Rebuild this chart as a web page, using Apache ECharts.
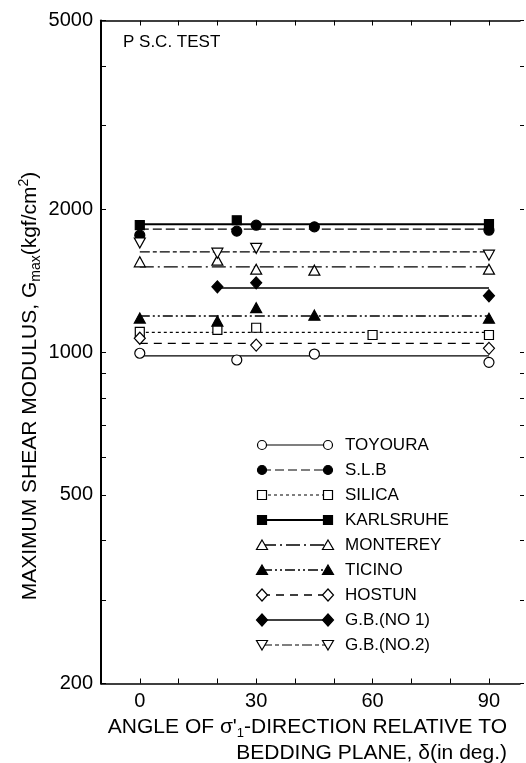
<!DOCTYPE html>
<html>
<head>
<meta charset="utf-8">
<script src="https://cdn.jsdelivr.net/npm/echarts@6/dist/echarts.min.js"></script>
<style>
  html, body { margin: 0; padding: 0; background: #fff; }
  #main { width: 526px; height: 763px; }
</style>
</head>
<body>
<div id="main"></div>
<script>
const FONT = '"Liberation Sans", Arial, Helvetica, sans-serif';

// axis ticks
const angleTicks = [-10, 0, 10, 20, 30, 40, 50, 60, 70, 80, 90];
const angleLabels = [0, 30, 60, 90];
const modulusTicks = [200, 300, 400, 500, 600, 700, 800, 900, 1000, 2000, 3000, 4000, 5000];
const modulusLabels = [200, 500, 1000, 2000, 5000];

// measured points: [angle (deg), Gmax (kgf/cm2)]
const toyoura = [[0, 994], [25, 962], [45, 990], [90, 951]];
const slb = [[0, 1763], [25, 1798], [30, 1851], [45, 1836], [90, 1806]];
const silica = [[0, 1103], [20, 1113], [30, 1125], [60, 1086], [90, 1086]];
const karlsruhe = [[0, 1851], [25, 1896], [90, 1860]];
const monterey = [[0, 1549], [20, 1562], [30, 1495], [45, 1488], [90, 1495]];
const ticino = [[0, 1179], [20, 1162], [30, 1240], [45, 1196], [90, 1178]];
const hostun = [[0, 1069], [30, 1034], [90, 1018]];
const gb1 = [[20, 1372], [30, 1399], [90, 1314]];
const gb2 = [[0, 1698], [20, 1616], [30, 1654], [90, 1600]];

// horizontal mean lines
const fitLevel = [981, 1815, 1100, 1860, 1512, 1191, 1043, 1364, 1626];
const fitFrom = [0, 0, 0, 0, 0, 0, 0, 20, 0];
const fitTo = [90, 90, 90, 90, 90, 90, 90, 90, 90];

const names = ['TOYOURA', 'S.L.B', 'SILICA', 'KARLSRUHE', 'MONTEREY', 'TICINO', 'HOSTUN', 'G.B.(NO 1)', 'G.B.(NO.2)'];
const points = [toyoura, slb, silica, karlsruhe, monterey, ticino, hostun, gb1, gb2];

const looks = [
  { symbol: 'circle', fill: false, dash: 'solid', w: 1.2 },
  { symbol: 'circle', fill: true, dash: [9, 4], w: 1.2 },
  { symbol: 'rect', fill: false, dash: [3, 3], w: 1.2 },
  { symbol: 'rect', fill: true, dash: 'solid', w: 2 },
  { symbol: 'triangle', fill: false, dash: [14, 4, 2, 4], w: 1.4 },
  { symbol: 'triangle', fill: true, dash: [10, 3, 2, 3, 2, 3], w: 1.3 },
  { symbol: 'diamond', fill: false, dash: [8, 6], w: 1.3 },
  { symbol: 'diamond', fill: true, dash: 'solid', w: 1.4 },
  { symbol: 'triangle', rotate: 180, fill: false, dash: [10, 3, 4, 3], w: 1.2 }
];

function symSize(s) {
  if (s === 'diamond') return [11, 12];
  if (s === 'triangle') return [11, 10];
  if (s === 'rect') return 9;
  return 10;
}

const series = [];
names.forEach((n, i) => {
  const lk = looks[i];
  series.push({
    type: 'line', name: n + ' line', silent: true, z: 2,
    symbol: 'none',
    data: [[fitFrom[i], fitLevel[i]], [fitTo[i], fitLevel[i]]],
    lineStyle: { color: '#000', width: lk.w, type: lk.dash }
  });
  series.push({
    type: 'scatter', name: n, z: 3,
    data: points[i],
    symbol: lk.symbol, symbolSize: symSize(lk.symbol), symbolRotate: lk.rotate || 0,
    itemStyle: { color: lk.fill ? '#000' : '#fff', borderColor: '#000', borderWidth: 1.2, opacity: 1 }
  });
});

// legend drawn as marker—line—marker rows
function mark(lk, x, y) {
  const style = { fill: lk.fill ? '#000' : '#fff', stroke: '#000', lineWidth: 1.2 };
  if (lk.symbol === 'circle') return { type: 'circle', shape: { cx: x, cy: y, r: 4.5 }, style, z: 101 };
  if (lk.symbol === 'rect') return { type: 'rect', shape: { x: x - 4.5, y: y - 4.5, width: 9, height: 9 }, style, z: 101 };
  if (lk.symbol === 'diamond') return { type: 'polygon', shape: { points: [[x, y - 6], [x + 5.5, y], [x, y + 6], [x - 5.5, y]] }, style, z: 101 };
  if (lk.rotate) return { type: 'polygon', shape: { points: [[x, y + 5], [x + 5.5, y - 4.5], [x - 5.5, y - 4.5]] }, style, z: 101 };
  return { type: 'polygon', shape: { points: [[x, y - 5], [x + 5.5, y + 4.5], [x - 5.5, y + 4.5]] }, style, z: 101 };
}

const graphics = [
  { type: 'text', left: 123, top: 34, z: 100,
    style: { text: 'P S.C. TEST', fontSize: 17, fontFamily: FONT, fill: '#000' } },
  { type: 'text', x: 507, y: 727, z: 100,
    style: { text: 'ANGLE OF σ\'{sub|1}-DIRECTION RELATIVE TO', fontSize: 21, fontFamily: FONT, fill: '#000',
      align: 'right', verticalAlign: 'middle',
      rich: { sub: { fontSize: 13, fontFamily: FONT, padding: [12, 0, 0, 0] } } } },
  { type: 'text', x: 507, y: 753, z: 100,
    style: { text: 'BEDDING PLANE, δ(in deg.)', fontSize: 21, fontFamily: FONT, fill: '#000',
      align: 'right', verticalAlign: 'middle' } },
  { type: 'text', x: 30, y: 386, rotation: Math.PI / 2, z: 100,
    style: { text: 'MAXIMUM SHEAR MODULUS, G{sub|max}(kgf/cm{sup|2})', fontSize: 21, fontFamily: FONT, fill: '#000',
      align: 'center', verticalAlign: 'middle',
      rich: {
        sub: { fontSize: 14, fontFamily: FONT, padding: [12, 0, 0, 0] },
        sup: { fontSize: 14, fontFamily: FONT, padding: [0, 0, 12, 0] }
      } } }
];
names.forEach((n, i) => {
  const lk = looks[i];
  const y = 445 + 25 * i;
  graphics.push({ type: 'line', z: 100, shape: { x1: 262, y1: y, x2: 328, y2: y },
    style: { stroke: '#000', lineWidth: lk.w, lineDash: lk.dash === 'solid' ? null : lk.dash } });
  graphics.push(mark(lk, 262, y));
  graphics.push(mark(lk, 328, y));
  graphics.push({ type: 'text', x: 345, y: y, z: 100,
    style: { text: n, fontSize: 17, fontFamily: FONT, fill: '#000', verticalAlign: 'middle' } });
});

const chart = echarts.init(document.getElementById('main'), null, { renderer: 'canvas' });
chart.setOption({
  animation: false,
  backgroundColor: '#fff',
  grid: { left: 101, right: 6, top: 20.5, bottom: 79.5, containLabel: false },
  xAxis: [{
    type: 'value', min: -10, max: 98, position: 'bottom',
    axisLine: { show: true, onZero: false, lineStyle: { color: '#000', width: 1.5 } },
    axisTick: { show: true, inside: true, length: 5, customValues: angleTicks, lineStyle: { color: '#000', width: 1 } },
    axisLabel: { customValues: angleLabels, fontSize: 20, fontFamily: FONT, color: '#000', margin: 8 },
    splitLine: { show: false }
  }, {
    type: 'value', min: -10, max: 98, position: 'top',
    axisLine: { show: true, onZero: false, lineStyle: { color: '#000', width: 1.5 } },
    axisTick: { show: true, inside: true, length: 5, customValues: angleTicks, lineStyle: { color: '#000', width: 1 } },
    axisLabel: { show: false },
    splitLine: { show: false }
  }],
  yAxis: [{
    type: 'log', logBase: 10, min: 200, max: 5000, position: 'left',
    axisLine: { show: true, onZero: false, lineStyle: { color: '#000', width: 2 } },
    axisTick: { show: true, inside: true, length: 5, customValues: modulusTicks, lineStyle: { color: '#000', width: 1 } },
    axisLabel: { customValues: modulusLabels, fontSize: 20, fontFamily: FONT, color: '#000', margin: 8,
      formatter: v => String(Math.round(v)) },
    splitLine: { show: false },
    minorTick: { show: false }
  }, {
    type: 'log', logBase: 10, min: 200, max: 5000, position: 'right',
    axisLine: { show: false, onZero: false },
    axisTick: { show: true, inside: false, length: 4, customValues: modulusTicks, lineStyle: { color: '#000', width: 1 } },
    axisLabel: { show: false },
    splitLine: { show: false }
  }],
  graphic: graphics,
  series: series
});
</script>
</body>
</html>
